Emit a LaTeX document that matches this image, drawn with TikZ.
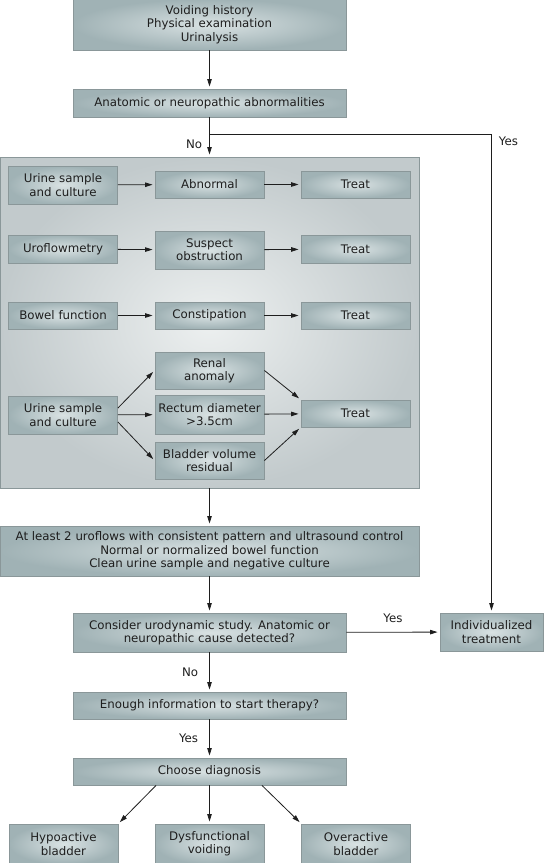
\documentclass[tikz,border=0pt]{standalone}
\usepackage{fontspec}
\setmainfont{DejaVu Sans}
\usetikzlibrary{arrows.meta}
\definecolor{cajaborde}{HTML}{8A9799}
\definecolor{cajafuera}{HTML}{A0B2B5}
\definecolor{cajacentro}{HTML}{D9E2E3}
\definecolor{panelfuera}{HTML}{C2CACC}
\definecolor{panelcentro}{HTML}{EDF0F0}
\definecolor{trazo}{HTML}{1E1E1E}
\begin{document}
\begin{tikzpicture}[x=1pt, y=-1pt,
		caja/.style={draw=cajaborde, line width=0.9pt, inner color=cajacentro, outer color=cajafuera, align=center, text=trazo, inner sep=0pt, font=\fontsize{11.8}{13.3}\selectfont},
		ancha/.style={caja, minimum width=273pt},
		chica/.style={caja, minimum width=109pt},
		panel/.style={draw=cajaborde, line width=0.9pt, inner color=panelcentro, outer color=panelfuera},
		flecha/.style={draw=trazo, line width=0.8pt, shorten >=2pt, -{Triangle[length=7.5pt,width=4.5pt]}},
		linea/.style={draw=trazo, line width=0.8pt},
		rotulo/.style={text=trazo, inner sep=2pt, font=\fontsize{11.8}{13.3}\selectfont}]
			\useasboundingbox (0,0) rectangle (550,863);
			  		% Fondo
				  		\node[panel, minimum width=419pt, minimum height=331pt] (panel) at (209.5,322.5) {};

			  		% Columna central
				  		\node[ancha, minimum height=51pt] (hist) at (209.5,24.5) {Voiding history\\Physical examination\\Urinalysis};
				  		\node[ancha, minimum height=28pt] (anat) at (209.5,103) {Anatomic or neuropathic abnormalities};
				  		\coordinate (sep) at (209.5,134);
				  		\node[caja, minimum width=419pt, minimum height=50pt] (pruebas) at (209.5,551) {At least 2 uroflows with consistent pattern and ultrasound control\\Normal or normalized bowel function\\Clean urine sample and negative culture};
				  		\node[ancha, minimum height=39pt] (urodin) at (209.5,632.5) {Consider urodynamic study. Anatomic or\\neuropathic cause detected?};
				  		\node[caja, minimum width=103pt, minimum height=38pt] (indiv) at (491.5,632) {Individualized\\treatment};
				  		\node[ancha, minimum height=27pt] (info) at (209.5,705.5) {Enough information to start therapy?};
				  		\node[ancha, minimum height=27pt] (diag) at (209.5,771.5) {Choose diagnosis};

			  		% Filas del panel
				  		\node[chica, minimum height=38pt] (orina1) at (63,185) {Urine sample\\and culture};
				  		\node[chica, minimum height=27pt] (anormal) at (209.5,184.5) {Abnormal};
				  		\node[chica, minimum height=27pt] (trat1) at (355.5,184.5) {Treat};

				  		\node[chica, minimum height=28pt] (flujo) at (63,249) {Uroflowmetry};
				  		\node[chica, minimum height=38pt] (obstr) at (209.5,250) {Suspect\\obstruction};
				  		\node[chica, minimum height=28pt] (trat2) at (355.5,249) {Treat};

				  		\node[chica, minimum height=27pt] (intest) at (63,315.5) {Bowel function};
				  		\node[chica, minimum height=27pt] (estren) at (209.5,315.5) {Constipation};
				  		\node[chica, minimum height=27pt] (trat3) at (355.5,315.5) {Treat};

				  		\node[chica, minimum height=38pt] (orina2) at (63,415) {Urine sample\\and culture};
				  		\node[chica, minimum height=37pt] (renal) at (209.5,370.5) {Renal\\anomaly};
				  		\node[chica, minimum height=39pt] (recto) at (209.5,414.5) {Rectum diameter\\>3.5cm};
				  		\node[chica, minimum height=37pt] (vejiga) at (209.5,460.5) {Bladder volume\\residual};
				  		\node[chica, minimum height=27pt] (trat4) at (355.5,413.5) {Treat};

			  		% Diagnosticos
				  		\node[chica, minimum height=40pt] (hipo) at (63.5,844) {Hypoactive\\bladder};
				  		\node[chica, minimum height=40pt] (disf) at (209.5,844) {Dysfunctional\\voiding};
				  		\node[chica, minimum height=40pt] (hiper) at (356,844) {Overactive\\bladder};

			  		% Flechas
				  		\draw[flecha] (hist) -- (anat);
				  		\draw[linea] (anat) -- (sep);
				  		\draw[flecha] (sep) -- node[rotulo, left=5pt, pos=0.45] {No} (panel);
				  		\draw[flecha] (sep) -| node[rotulo, pos=0.5, anchor=north west, xshift=5pt] {Yes} (indiv);

				  		\draw[flecha] (orina1) -- (anormal);
				  		\draw[flecha] (anormal) -- (trat1);
				  		\draw[flecha] (flujo) -- (obstr);
				  		\draw[flecha] (obstr) -- (trat2);
				  		\draw[flecha] (intest) -- (estren);
				  		\draw[flecha] (estren) -- (trat3);

				  		\draw[flecha] ([yshift=7pt]orina2.east) -- (renal.west);
				  		\draw[flecha] (orina2) -- (recto);
				  		\draw[flecha] ([yshift=-7pt]orina2.east) -- (vejiga.west);
				  		\draw[flecha] (renal.east) -- (trat4.north west);
				  		\draw[flecha] (recto) -- (trat4);
				  		\draw[flecha] (vejiga.east) -- (trat4.south west);

				  		\draw[flecha] (panel) -- (pruebas);
				  		\draw[flecha] (pruebas) -- (urodin);
				  		\draw[flecha] (urodin) -- node[rotulo, above=7pt] {Yes} (indiv);
				  		\draw[flecha] (urodin) -- node[rotulo, left=9pt] {No} (info);
				  		\draw[flecha] (info) -- node[rotulo, left=9pt] {Yes} (diag);

				  		\draw[flecha] ([xshift=-53.5pt]diag.south) -- (hipo.north east);
				  		\draw[flecha] (diag) -- (disf);
				  		\draw[flecha] ([xshift=52.5pt]diag.south) -- (hiper.north west);
			  	\end{tikzpicture}
\end{document}
